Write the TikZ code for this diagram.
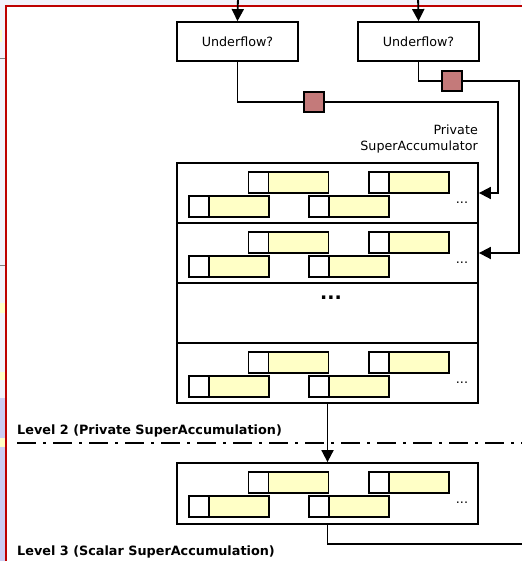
\documentclass[tikz,border=0pt]{standalone}
\usepackage{fontspec}
\setmainfont{DejaVu Sans}
\usetikzlibrary{arrows.meta}
\definecolor{cellyellow}{RGB}{255,255,198}
\definecolor{sqred}{RGB}{196,122,122}
\definecolor{framered}{RGB}{190,0,0}
\definecolor{lav}{RGB}{242,242,250}
\definecolor{lavdark}{RGB}{204,204,242}
\newcommand{\cellrow}[2]{%
  \node[ycell] (#1b) at (298.5,{#2+19.5}) {};
  \node[wcell] (#1a) at (258.5,{#2+19.5}) {};
  \node[ycell] (#1d) at (419,{#2+19.5}) {};
  \node[wcell] (#1c) at (379,{#2+19.5}) {};
  \node[ycell] (#1f) at (239,{#2+43.5}) {};
  \node[wcell] (#1e) at (199,{#2+43.5}) {};
  \node[ycell] (#1h) at (359,{#2+43.5}) {};
  \node[wcell] (#1g) at (319,{#2+43.5}) {};
  \node[inner sep=0pt] (#1dots) at (462,{#2+40}) {...};
}
\begin{document}
\begin{tikzpicture}[x=1pt,y=-1pt,
  font=\fontsize{12.7}{16}\selectfont,
  ubox/.style={draw,line width=1.8pt,fill=white,minimum width=121pt,minimum height=39pt,inner sep=0pt},
  rowbox/.style={draw,line width=1.8pt,minimum width=301pt,minimum height=60pt,inner sep=0pt},
  wcell/.style={draw,line width=1.8pt,fill=white,minimum width=20pt,minimum height=21pt,inner sep=0pt,outer sep=0pt},
  ycell/.style={draw,line width=1.8pt,fill=cellyellow,minimum width=60pt,minimum height=21pt,inner sep=0pt,outer sep=0pt},
  regsq/.style={draw,line width=1.8pt,fill=sqred,minimum size=20pt,inner sep=0pt},
  conn/.style={line width=1.8pt},
  arr/.style={conn,-{Triangle[length=12pt,width=12pt]}},
  lvl/.style={anchor=west,inner sep=0pt,font=\fontsize{12.8}{16}\selectfont\bfseries}]
\useasboundingbox (0,0) rectangle (521,561);
% background strips of the surrounding figure
\fill[lav] (0,0) rectangle (521,6);
\fill[lav] (0,0) rectangle (6,398);
\fill[lavdark] (0,398) rectangle (6,561);
\fill[cellyellow] (0,30) rectangle (2,42);
\fill[cellyellow] (0,303) rectangle (6,313);
\fill[cellyellow] (0,372) rectangle (6,380);
\fill[cellyellow] (0,438) rectangle (6,447);
\draw[gray,line width=0.6pt] (0,58) -- (6,58);
\draw[gray,line width=0.6pt] (0,265) -- (6,265);
\draw[framered,line width=2.6pt] (6,565) -- (6,6) -- (525,6);

% Underflow checks
\node[ubox] (u1) at (237.5,41.5) {Underflow?};
\node[ubox] (u2) at (418.5,41.5) {Underflow?};
\coordinate (in1) at (238,-4);
\coordinate (in2) at (418,-4);
\draw[arr] (in1) -- (u1.north);
\draw[arr] (in2) -- (u2.north);

% registers
\node[regsq] (sq1) at (314,102) {};
\node[regsq] (sq2) at (452,81) {};

% label
\node[anchor=north east,align=right,inner sep=0pt] (lbl) at (478,125) {Private\\SuperAccumulator};

% private superaccumulator
\node[rowbox] (r1) at (327.5,193) {};
\node[rowbox] (r2) at (327.5,253) {};
\node[rowbox] (r3) at (327.5,313) {};
\node[rowbox] (r4) at (327.5,373) {};
\cellrow{ra}{163}
\cellrow{rb}{223}
\cellrow{rd}{343}
\node[inner sep=0pt,font=\fontsize{19}{20}\selectfont\bfseries] (r3dots) at (331,298) {...};

% connectors from underflow to superaccumulator
\coordinate (k1) at (498,102);
\coordinate (k2) at (519,81);
\draw[conn] (u1.south) |- (sq1.west);
\draw[arr] (sq1.east) -- (k1) |- (r1.east);
\draw[conn] (u2.south) |- (sq2.west);
\draw[arr] (sq2.east) -- (k2) |- (r2.east);

% level separator
\coordinate (sepL) at (17,443);
\coordinate (sepR) at (523,443);
\draw[line width=1.9pt,dash pattern=on 19pt off 7pt on 3pt off 7pt] (sepL) -- (sepR);
\node[lvl] (lv2) at (17,431) {Level 2 (Private SuperAccumulation)};

% scalar superaccumulator
\node[rowbox,minimum height=61pt] (l3) at (327.5,493.5) {};
\cellrow{sc}{463}
\draw[arr] (r4.south) -- (l3.north);
\coordinate (out) at (524,544);
\draw[conn] (l3.south) |- (out);
\node[lvl] (lv3) at (17,551.5) {Level 3 (Scalar SuperAccumulation)};
\end{tikzpicture}
\end{document}
